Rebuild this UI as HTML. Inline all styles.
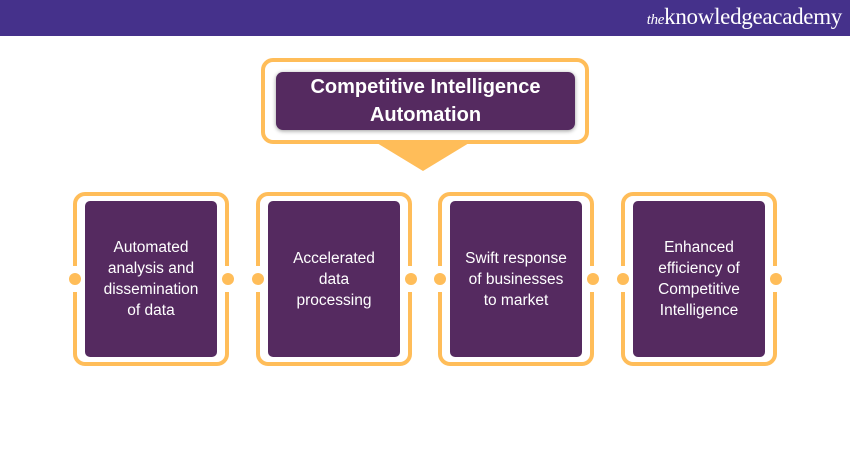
<!DOCTYPE html>
<html><head><style>
body{margin:0;width:850px;height:450px;background:#fff;position:relative;overflow:hidden;font-family:"Liberation Sans",sans-serif}
.hdr{position:absolute;left:0;top:0;width:850px;height:36px;background:#45318b}
.logo{position:absolute;right:8px;top:4px;color:#fff;font-family:"Liberation Serif",serif;font-size:23px;letter-spacing:-0.3px}
.logo i{font-size:15px}
.tf{position:absolute;left:261px;top:58px;width:320px;height:78px;border:4px solid #ffbd59;border-radius:12px}
.tb{position:absolute;left:276px;top:72px;width:299px;height:58px;background:#552a60;border-radius:7px;box-shadow:0 1px 4px rgba(0,0,0,.4);color:#fff;font-weight:bold;font-size:20px;text-align:center;line-height:28px;padding-top:1px;box-sizing:border-box}
.tri{position:absolute;left:372px;top:140px;width:0;height:0;border-left:51px solid transparent;border-right:51px solid transparent;border-top:31px solid #ffbd59}
.cf{position:absolute;top:192px;width:148px;height:166px;border:4px solid #ffbd59;border-radius:12px}
.gap{position:absolute;top:266px;width:10px;height:26px;background:#fff}
.dot{position:absolute;top:273px;width:12px;height:12px;border-radius:50%;background:#ffbd59}
.cb{position:absolute;top:201px;width:132px;height:156px;background:#552a60;border-radius:5px;color:#fff;font-size:15.5px;line-height:21px;text-align:center;display:flex;align-items:center;justify-content:center}
</style></head><body>
<div class="hdr"><div class="logo"><i>the</i>knowledgeacademy</div></div>
<div class="tf"></div>
<div class="tb">Competitive Intelligence<br>Automation</div>
<div class="tri"></div>

<div class="cf" style="left:73px"></div><div class="gap" style="left:70px"></div><div class="gap" style="left:222px"></div>
<div class="dot" style="left:69px"></div><div class="dot" style="left:222px"></div>
<div class="cb" style="left:85px">Automated<br>analysis and<br>dissemination<br>of data</div>

<div class="cf" style="left:256px"></div><div class="gap" style="left:253px"></div><div class="gap" style="left:405px"></div>
<div class="dot" style="left:252px"></div><div class="dot" style="left:405px"></div>
<div class="cb" style="left:268px">Accelerated<br>data<br>processing</div>

<div class="cf" style="left:438px"></div><div class="gap" style="left:435px"></div><div class="gap" style="left:587px"></div>
<div class="dot" style="left:434px"></div><div class="dot" style="left:587px"></div>
<div class="cb" style="left:450px">Swift response<br>of businesses<br>to market</div>

<div class="cf" style="left:621px"></div><div class="gap" style="left:618px"></div><div class="gap" style="left:770px"></div>
<div class="dot" style="left:617px"></div><div class="dot" style="left:770px"></div>
<div class="cb" style="left:633px">Enhanced<br>efficiency of<br>Competitive<br>Intelligence</div>
</body></html>
